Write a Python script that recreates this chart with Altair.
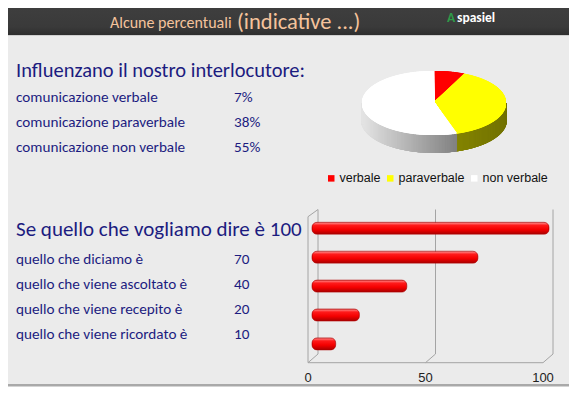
import altair as alt
import numpy as np
import pandas as pd

# ---------------- data ----------------
title_main = "Alcune percentuali"
title_note = "(indicative ...)"
logo_text = "Aspasiel"
pie_heading = "Influenzano il nostro interlocutore:"
pie_labels = ["verbale", "paraverbale", "non verbale"]
pie_values = [7, 38, 55]
pie_colors = ["#ff0000", "#ffff00", "#ffffff"]
bar_labels = ["quello che vogliamo dire è", "quello che diciamo è",
              "quello che viene ascoltato è", "quello che viene recepito è",
              "quello che viene ricordato è"]
bar_values = [100, 70, 40, 20, 10]
axis_ticks = [0, 50, 100]

# ---------------- layout ----------------
W, H = 561, 383
FONT = "Carlito, Lato, sans-serif"
NAVY = "#1c1c80"
PEACH = "#f5c39c"
one = pd.DataFrame({"a": [0]})

def rect(y0, y1, color, x0=0, x1=W):
    return alt.Chart(one).mark_rect(color=color).encode(
        x=alt.value(x0), x2=alt.value(x1), y=alt.value(y0), y2=alt.value(y1))

def label(text, x, y, size, color, **kw):
    return alt.Chart(one).mark_text(text=text, align="left", baseline="alphabetic",
                                    font=FONT, fontSize=size, color=color, **kw).encode(
        x=alt.value(x), y=alt.value(y))

slide = rect(0, 376, "#ebebeb")
shadow = rect(376, 378.5, "#a9a9a9")
header = alt.Chart(one).mark_rect(color=alt.Gradient(
    gradient="linear", x1=0, x2=0, y1=0, y2=1,
    stops=[alt.GradientStop(offset=0, color="#3e3e3e"),
           alt.GradientStop(offset=0.7, color="#3a3a3a"),
           alt.GradientStop(offset=1, color="#2e2e2e")])).encode(
    x=alt.value(0), x2=alt.value(W), y=alt.value(0), y2=alt.value(27))
hline = rect(27, 28, "#cfcfcf")

t1 = label(title_main, 102, 20, 16, PEACH, fontWeight=500)
t2 = label(title_note, 229, 20.5, 22.5, PEACH, fontWeight=500)
lg1 = label(logo_text[0], 439, 13.5, 13.5, "#2e9a48", fontWeight="bold")
lg2 = label(logo_text[1:], 449, 13.5, 13.5, "#ffffff", fontWeight="bold")

# ---------- left texts ----------
h1 = label(pie_heading, 8, 69.3, 20.5, NAVY)
pie_df = pd.DataFrame({"cat": pie_labels,
                       "line": ["comunicazione " + c for c in pie_labels],
                       "pct": [f"{v}%" for v in pie_values]})
pie_y = alt.Y("cat:N", scale=alt.Scale(type="point", domain=pie_labels, range=[94.3, 143.7],
                                       padding=0), axis=None)
pie_lines = alt.Chart(pie_df).mark_text(align="left", baseline="alphabetic", font=FONT,
                                        fontSize=15.2, color=NAVY).encode(
    x=alt.value(8), y=pie_y, text="line:N")
pie_pcts = alt.Chart(pie_df).mark_text(align="left", baseline="alphabetic", font=FONT,
                                       fontSize=15.2, color=NAVY).encode(
    x=alt.value(226), y=pie_y, text="pct:N")

h2 = label("Se " + bar_labels[0] + "  " + str(bar_values[0]), 8, 227.7, 21, NAVY)
rows = pd.DataFrame({"lab": bar_labels[1:], "val": [str(v) for v in bar_values[1:]]})
row_y = alt.Y("lab:N", scale=alt.Scale(type="point", domain=bar_labels[1:], range=[256, 331.3],
                                       padding=0), axis=None)
row_lines = alt.Chart(rows).mark_text(align="left", baseline="alphabetic", font=FONT,
                                      fontSize=15.2, color=NAVY).encode(
    x=alt.value(8), y=row_y, text="lab:N")
row_vals = alt.Chart(rows).mark_text(align="left", baseline="alphabetic", font=FONT,
                                     fontSize=15.2, color=NAVY).encode(
    x=alt.value(226), y=row_y, text="val:N")

# ---------- pie (tilted, 3D) ----------
cx, cy, rx, ry, depth = 426, 95, 72, 32, 18
frac = np.arange(0, 1, 1 / 1440)
cum = np.cumsum(pie_values) / np.sum(pie_values)
cats = np.array(pie_labels)[np.minimum(np.searchsorted(cum, frac, side="right"), len(pie_labels) - 1)]
geo = pd.DataFrame({"f": frac, "cat": cats,
                    "sx": np.sin(2 * np.pi * frac), "cy": np.cos(2 * np.pi * frac)})
side = geo[(geo.f >= 0.25) & (geo.f <= 0.75)].copy()
side["cy2"] = side["cy"] - depth / ry
def side_col(row):
    if row["cat"] == pie_labels[2]:
        g = int(228 - (row["sx"] + 1) * 75)
        return f"rgb({g},{g},{g})"
    if row["cat"] == pie_labels[1]:
        g = int(140 - (row["sx"]) * 25)
        return f"rgb({g},{g},0)"
    return "rgb(150,0,0)"
side["col"] = side.apply(side_col, axis=1)

px = alt.Scale(domain=[-1, 1], range=[cx - rx, cx + rx])
py = alt.Scale(domain=[-1, 1], range=[cy + ry, cy - ry])
pie_side = alt.Chart(side).mark_rule(strokeWidth=1.6).encode(
    x=alt.X("sx:Q", scale=px, axis=None), y=alt.Y("cy:Q", scale=py, axis=None),
    y2="cy2:Q", color=alt.Color("col:N", scale=None))
legend_marks = alt.Chart(pd.DataFrame({"cat": pie_labels})).mark_square(size=10, opacity=1).encode(
    x=alt.value(cx), y=alt.value(cy),
    color=alt.Color("cat:N", scale=alt.Scale(domain=pie_labels, range=pie_colors),
                    legend=alt.Legend(orient="none", legendX=317, legendY=164, direction="horizontal",
                                      title=None, symbolType="square", symbolSize=42,
                                      symbolStrokeWidth=0, labelFont="Liberation Sans",
                                      labelFontSize=12.5, labelColor="#111111", labelOffset=2,
                                      columnPadding=3, padding=0)))
pie_top = alt.Chart(geo).mark_rule(strokeWidth=1.6).encode(
    x=alt.X("sx:Q", scale=px, axis=None), y=alt.Y("cy:Q", scale=py, axis=None),
    x2=alt.datum(0), y2=alt.datum(0),
    color=alt.Color("cat:N", scale=alt.Scale(domain=pie_labels, range=pie_colors), legend=None))

# ---------- bar chart frame ----------
front = alt.Scale(domain=[0, 100], range=[300, 535])
k = 10 / 2.35
ticks_df = pd.DataFrame({"t": axis_ticks})
GRID = "#a4a4a4"
back_v = alt.Chart(ticks_df).mark_rule(color=GRID, strokeWidth=1).transform_calculate(
    b=f"datum.t + {k}").encode(x=alt.X("b:Q", scale=front, axis=None),
                                y=alt.value(201.5), y2=alt.value(346))
diag = alt.Chart(ticks_df).mark_rule(color=GRID, strokeWidth=1).transform_calculate(
    b=f"datum.t + {k}").encode(x=alt.X("t:Q", scale=front, axis=None), y=alt.value(354.7),
                                x2="b:Q", y2=alt.value(346))
front_line = alt.Chart(ticks_df).mark_rule(color=GRID, strokeWidth=1).encode(
    x=alt.X("min(t):Q", scale=front, axis=None), x2="max(t):Q", y=alt.value(354.7))
left_wall = alt.Chart(ticks_df).transform_filter("datum.t == 0").mark_rule(
    color=GRID, strokeWidth=1).encode(x=alt.X("t:Q", scale=front, axis=None),
                                      y=alt.value(208.7), y2=alt.value(354.7))
left_top = alt.Chart(ticks_df).transform_filter("datum.t == 0").transform_calculate(
    b=f"datum.t + {k}").mark_rule(color=GRID, strokeWidth=1).encode(
    x=alt.X("t:Q", scale=front, axis=None), y=alt.value(208.7), x2="b:Q", y2=alt.value(201.5))
tick_text = alt.Chart(ticks_df).mark_text(font="Liberation Sans", fontSize=13, color="#222222",
                                          baseline="middle").encode(
    x=alt.X("t:Q", scale=front, axis=None), y=alt.value(369.7), text="t:Q")

# ---------- bars ----------
bars_df = pd.DataFrame({"lab": bar_labels, "val": bar_values})
bars = alt.Chart(bars_df).mark_bar(
    cornerRadius=5, stroke="#b00000", strokeWidth=0.6,
    color=alt.Gradient(gradient="linear", x1=0, x2=0, y1=0, y2=1,
                       stops=[alt.GradientStop(offset=0, color="#ff9a9a"),
                              alt.GradientStop(offset=0.25, color="#ff1a1a"),
                              alt.GradientStop(offset=0.6, color="#f40000"),
                              alt.GradientStop(offset=1, color="#a80000")])).encode(
    x=alt.X("val:Q", scale=alt.Scale(domain=[0, 100], range=[304, 541]), axis=None),
    y=alt.Y("lab:N", scale=alt.Scale(type="band", domain=bar_labels, range=[205.85, 350.35],
                                     paddingInner=0.585, paddingOuter=0.2925), axis=None))

chart = alt.layer(
    slide, shadow, header, hline, t1, t2, lg1, lg2,
    h1, pie_lines, pie_pcts, h2, row_lines, row_vals,
    legend_marks, pie_side, pie_top,
    back_v, diag, front_line, left_wall, left_top, tick_text, bars
).resolve_scale(x="independent", y="independent", color="independent").properties(
    width=W, height=H, padding=0, autosize="none", background="#ffffff"
).configure_view(stroke=None)

chart.save("out.html", embed_options={"renderer": "svg", "actions": False})
